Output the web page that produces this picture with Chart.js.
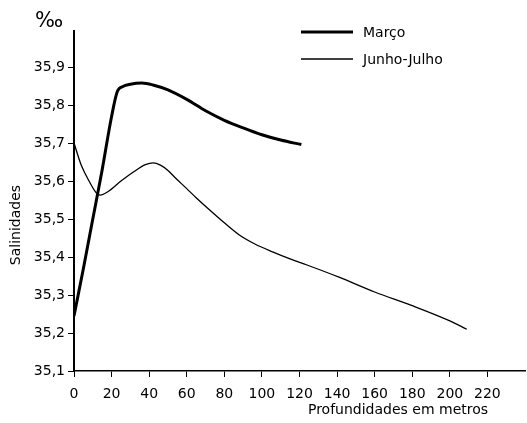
<!DOCTYPE html>
<html lang="pt">
<head>
  <meta charset="UTF-8">
  <title>Salinidades</title>
  <style>
    * { box-sizing: border-box; }
    body { margin: 0; padding: 0; background: #fff; }
    #wrap { width: 527px; height: 423px; }
  </style>
</head>
<body>
<div id="wrap"><canvas id="chart" width="527" height="423"></canvas></div>

<script src="https://cdn.jsdelivr.net/npm/chart.js"></script>
<script>
  // Março
  const marcoDepth = [0, 5, 10, 15, 20, 23, 26, 30, 36, 42, 50, 60, 70, 80, 90, 100, 110, 121];
  const marcoSal   = [35.245, 35.37, 35.50, 35.63, 35.77, 35.835, 35.849, 35.855, 35.858, 35.853, 35.84, 35.815, 35.785, 35.76, 35.74, 35.722, 35.708, 35.696];

  // Junho-Julho
  const junhoDepth = [0, 4, 8, 12, 14, 18, 25, 32, 38, 42, 46, 50, 54, 60, 65, 71, 80, 88, 96, 106, 115, 124, 141, 160, 180, 200, 209];
  const junhoSal   = [35.70, 35.64, 35.60, 35.568, 35.563, 35.572, 35.60, 35.625, 35.643, 35.648, 35.642, 35.628, 35.608, 35.58, 35.556, 35.529, 35.49, 35.458, 35.435, 35.413, 35.395, 35.379, 35.347, 35.308, 35.272, 35.232, 35.21];

  const seriesLabels = ['Março', 'Junho-Julho'];
  const xTitle = 'Profundidades em metros';
  const yTitle = 'Salinidades';
  const unitLabel = '‰';

  const FONT = '"DejaVu Sans", sans-serif';

  function toPoints(xs, ys) {
    return xs.map((x, i) => ({ x: x, y: ys[i] }));
  }

  // legend + axis titles drawn by hand to sit where the original has them
  const extras = {
    id: 'extras',
    afterDraw(chart) {
      const ctx = chart.ctx;
      ctx.save();
      ctx.fillStyle = '#000';
      ctx.strokeStyle = '#000';
      ctx.font = '14px ' + FONT;
      ctx.textBaseline = 'middle';

      const rows = [32, 59];
      chart.data.datasets.forEach((ds, i) => {
        ctx.lineWidth = ds.borderWidth;
        ctx.beginPath();
        ctx.moveTo(301, rows[i]);
        ctx.lineTo(353, rows[i]);
        ctx.stroke();
        ctx.fillText(ds.label, 363, rows[i] + 1);
      });

      ctx.textAlign = 'center';
      ctx.fillText(xTitle, 398, 410);

      ctx.font = '21px ' + FONT;
      ctx.fillText(unitLabel, 49, 22);

      ctx.font = '14px ' + FONT;
      ctx.translate(16, 225);
      ctx.rotate(-Math.PI / 2);
      ctx.fillText(yTitle, 0, 0);
      ctx.restore();
    }
  };

  new Chart(document.getElementById('chart'), {
    type: 'line',
    data: {
      datasets: [
        {
          label: seriesLabels[0],
          data: toPoints(marcoDepth, marcoSal),
          borderColor: '#000',
          borderWidth: 3,
          pointRadius: 0,
          cubicInterpolationMode: 'monotone',
          fill: false
        },
        {
          label: seriesLabels[1],
          data: toPoints(junhoDepth, junhoSal),
          borderColor: '#000',
          borderWidth: 1.3,
          pointRadius: 0,
          cubicInterpolationMode: 'monotone',
          fill: false
        }
      ]
    },
    options: {
      responsive: false,
      animation: false,
      layout: { padding: { top: 31, right: 2, left: 0, bottom: 0 } },
      plugins: {
        legend: { display: false },
        tooltip: { enabled: false }
      },
      scales: {
        x: {
          type: 'linear',
          min: 0,
          max: 240,
          afterFit(scale) { scale.height = 52; },
          afterBuildTicks(scale) { scale.ticks = scale.ticks.filter(t => t.value <= 220); },
          ticks: {
            stepSize: 20,
            color: '#000',
            padding: 9,
            maxRotation: 0,
            font: { family: FONT, size: 14 }
          },
          grid: { drawOnChartArea: false, drawTicks: true, tickLength: 6, color: '#000', lineWidth: 1 },
          border: { display: true, color: '#000', width: 1.5 }
        },
        y: {
          type: 'linear',
          min: 35.1,
          max: 35.995,
          afterFit(scale) { scale.width = 74; },
          afterBuildTicks(scale) { scale.ticks = scale.ticks.filter(t => t.value < 35.95); },
          ticks: {
            stepSize: 0.1,
            color: '#000',
            padding: 3,
            font: { family: FONT, size: 14 },
            callback: v => v.toFixed(1).replace('.', ',')
          },
          grid: { drawOnChartArea: false, drawTicks: true, tickLength: 6, color: '#000', lineWidth: 1 },
          border: { display: true, color: '#000', width: 2 }
        }
      }
    },
    plugins: [extras]
  });
</script>
</body>
</html>
